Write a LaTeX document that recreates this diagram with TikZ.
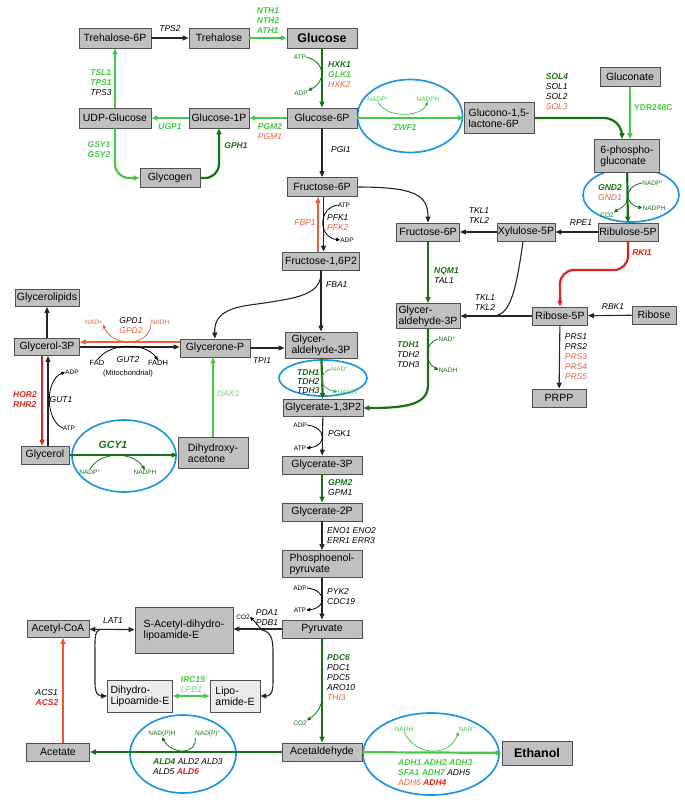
\documentclass[tikz,border=0pt]{standalone}
\usepackage{fontspec}
\setmainfont{Liberation Sans}
\usetikzlibrary{arrows.meta, positioning, shapes.geometric, calc}
\definecolor{dgreen}{RGB}{20,115,20}
\definecolor{lgreen}{RGB}{70,200,70}
\definecolor{pgreen}{RGB}{125,205,125}
\definecolor{orng}{RGB}{230,100,60}
\definecolor{rred}{RGB}{225,35,30}
\definecolor{acsred}{RGB}{240,85,45}
\definecolor{ringblue}{RGB}{30,150,225}
\definecolor{boxfill}{RGB}{192,192,192}
\definecolor{boxline}{RGB}{80,80,80}
\definecolor{litefill}{RGB}{236,236,236}

\newcommand{\gnDark}[1]{\textcolor{dgreen}{\bfseries #1}}
\newcommand{\gnBright}[1]{\textcolor{lgreen}{\bfseries #1}}
\newcommand{\gnPale}[1]{\textcolor{pgreen}{#1}}
\newcommand{\gnOr}[1]{\textcolor{orng}{#1}}
\newcommand{\gnRed}[1]{\textcolor{rred}{\bfseries #1}}

\begin{document}
\begin{tikzpicture}[x=1pt, y=-1pt,
  box/.style={draw=boxline, fill=boxfill, line width=0.9pt, inner sep=1pt,
  font=\fontsize{10.5}{11}\selectfont, align=left},
  litebox/.style={box, fill=litefill},
  bigbox/.style={box, font=\fontsize{12.5}{13}\selectfont\bfseries},
  gene/.style={font=\fontsize{8.5}{10}\selectfont\itshape, inner sep=0pt, align=left},
  cof/.style={font=\fontsize{6.5}{7}\selectfont, inner sep=0pt},
  ring/.style={draw=ringblue, line width=1.7pt, ellipse, inner sep=0pt},
  arr/.style={-{Triangle[length=6pt,width=5pt]}, line width=1.1pt, black!85},
  dblarr/.style={{Triangle[length=6pt,width=5pt]}-{Triangle[length=6pt,width=5pt]}, line width=1.1pt, black!85},
  garr/.style={arr, lgreen, line width=2.2pt},
  dgarr/.style={arr, dgreen, line width=2.2pt},
  rarr/.style={arr, rred, line width=2.2pt},
  oarr/.style={arr, orng, line width=1.3pt},
  hop/.style={-{Triangle[length=4pt,width=3.5pt]}, line width=0.8pt}
]
\useasboundingbox (0,0) rectangle (685,804);

% rings
\node[ring, minimum width=105pt, minimum height=73pt] (zwfring) at (410,116) {};
\node[ring, minimum width=96pt, minimum height=54pt] (gndring) at (631,195) {};
\node[ring, minimum width=88pt, minimum height=36pt] (tdhring) at (323,378) {};
\node[ring, minimum width=104pt, minimum height=72pt] (gcyring) at (124,456) {};
\node[ring, minimum width=106pt, minimum height=78pt] (aldring) at (183,754) {};
\node[ring, minimum width=136pt, minimum height=82pt] (adhring) at (431,754) {};

% metabolites
\node[box, minimum width=72pt, minimum height=20pt] (tre6p) at (115,38) {Trehalose-6P};
\node[box, minimum width=60pt, minimum height=20pt] (tre)   at (219,38) {Trehalose};
\node[bigbox, minimum width=70pt, minimum height=20pt] (glc) at (322,38) {Glucose};
\node[box, minimum width=72pt, minimum height=20pt] (udpg)  at (115,118) {UDP-Glucose};
\node[box, minimum width=60pt, minimum height=20pt] (g1p)   at (219,118) {Glucose-1P};
\node[box, minimum width=70pt, minimum height=20pt] (g6p)   at (322,118) {Glucose-6P};
\node[box, minimum width=70pt, minimum height=31pt] (glcnl) at (499,118) {Glucono-1,5-\\lactone-6P};
\node[box, minimum width=60pt, minimum height=19pt] (glcn)  at (630,77) {Gluconate};
\node[box, minimum width=65pt, minimum height=33pt] (pglcn) at (627,156) {6-phospho-\\gluconate};
\node[box, minimum width=60pt, minimum height=19pt] (glyc)  at (170,178) {Glycogen};
\node[box, minimum width=70pt, minimum height=19pt] (f6p)   at (322,187) {Fructose-6P};
\node[box, minimum width=77pt, minimum height=18pt] (f16p)  at (321,261) {Fructose-1,6P2};
\node[box, minimum width=60pt, minimum height=18pt] (ru5p)  at (628,232) {Ribulose-5P};
\node[box, minimum width=58pt, minimum height=18pt] (xu5p)  at (526,232) {Xylulose-5P};
\node[box, minimum width=63pt, minimum height=18pt] (f6pb)  at (428,232) {Fructose-6P};
\node[box, minimum width=55pt, minimum height=18pt] (r5p)   at (560,316) {Ribose-5P};
\node[box, minimum width=44pt, minimum height=18pt] (rib)   at (654,315) {Ribose};
\node[box, minimum width=54pt, minimum height=18pt] (prpp)  at (559,398) {PRPP};
\node[box, minimum width=64pt, minimum height=25pt] (gapb)  at (428,316) {Glycer-\\aldehyde-3P};
\node[box, minimum width=72pt, minimum height=26pt] (gap)   at (321,345) {Glycer-\\aldehyde-3P};
\node[box, minimum width=70pt, minimum height=18pt] (dhap)  at (215,348) {Glycerone-P};
\node[box, minimum width=64pt, minimum height=17pt] (glpd)  at (47,298) {Glycerolipids};
\node[box, minimum width=65pt, minimum height=17pt] (g3p)   at (47,347) {Glycerol-3P};
\node[box, minimum width=48pt, minimum height=18pt] (glyl)  at (45,455) {Glycerol};
\node[box, minimum width=70pt, minimum height=31pt] (dha)   at (213,453) {Dihydroxy-\\acetone};
\node[box, minimum width=80pt, minimum height=17pt] (bpg)   at (323,408) {Glycerate-1,3P2};
\node[box, minimum width=80pt, minimum height=18pt] (pg3)   at (322,465) {Glycerate-3P};
\node[box, minimum width=80pt, minimum height=18pt] (pg2)   at (322,512) {Glycerate-2P};
\node[box, minimum width=80pt, minimum height=27pt] (pep)   at (322,564) {Phosphoenol-\\pyruvate};
\node[box, minimum width=80pt, minimum height=18pt] (pyr)   at (322,629) {Pyruvate};
\node[box, minimum width=98pt, minimum height=46pt] (sacl)  at (184,630) {S-Acetyl-dihydro-\\lipoamide-E};
\node[box, minimum width=62pt, minimum height=17pt] (accoa) at (58,629) {Acetyl-CoA};
\node[litebox, minimum width=65pt, minimum height=32pt] (dlip) at (140,696) {Dihydro-\\Lipoamide-E};
\node[litebox, minimum width=50pt, minimum height=32pt] (lip)  at (235,696) {Lipo-\\amide-E};
\node[box, minimum width=63pt, minimum height=18pt] (acet)  at (58,752) {Acetate};
\node[box, minimum width=80pt, minimum height=18pt] (acald) at (322,752) {Acetaldehyde};
\node[bigbox, minimum width=70pt, minimum height=24pt] (etoh) at (537,753) {Ethanol};

% cofactors
\node[cof, text=dgreen] (atpa) at (300,57) {ATP};
\node[cof, text=dgreen] (adpa) at (301,93) {ADP};
\node[cof, text=lgreen] (nadpa) at (378,99) {NADP\textsuperscript{+}};
\node[cof, text=lgreen] (nadpha) at (428,99) {NADPH};
\node[cof, text=dgreen] (nadpb) at (653,183) {NADP\textsuperscript{+}};
\node[cof, text=dgreen] (nadphb) at (654,208) {NADPH};
\node[cof, text=dgreen] (co2a) at (607,215) {CO2};
\node[cof, text=dgreen] (nadb) at (447,339) {NAD\textsuperscript{+}};
\node[cof, text=dgreen] (nadhb) at (448,370) {NADH};
\node[cof] (atpb) at (344,205) {ATP};
\node[cof] (adpb) at (347,240) {ADP};
\node[cof, text=orng] (nadc) at (94,322) {NAD+};
\node[cof, text=orng] (nadhc) at (160,322) {NADH};
\node[cof, font=\fontsize{7.5}{8}\selectfont] (fad) at (97,363) {FAD};
\node[cof, font=\fontsize{7.5}{8}\selectfont] (fadh) at (158,363) {FADH};
\node[cof, font=\fontsize{7.5}{8}\selectfont] (mito) at (128,374) {(Mitochondrial)};
\node[cof] (adpc) at (72,372) {ADP};
\node[cof] (atpc) at (69,428) {ATP};
\node[cof, text=dgreen] (nadpc) at (90,472) {NADP\textsuperscript{+}};
\node[cof, text=dgreen] (nadphc) at (145,472) {NADPH};
\node[cof, text=lgreen] (nadd) at (340,369) {NAD\textsuperscript{+}};
\node[cof, text=lgreen] (nadhd) at (347,392) {NADH};
\node[cof] (adpd) at (300,425) {ADP};
\node[cof] (atpd) at (300,448) {ATP};
\node[cof] (adpe) at (300,588) {ADP};
\node[cof] (atpe) at (300,610) {ATP};
\node[cof] (co2b) at (243,617) {CO2};
\node[cof, text=dgreen] (co2c) at (300,723) {CO2};
\node[cof, text=dgreen] (nadphd) at (162,734) {NAD(P)H};
\node[cof, text=dgreen] (nadpd) at (208,734) {NAD(P)\textsuperscript{+}};
\node[cof, text=lgreen] (nadhe) at (404,729) {NADH};
\node[cof, text=lgreen] (nade) at (467,729) {NAD\textsuperscript{+}};

% genes
\node[gene] at (170,29) {TPS2};
\node[gene] at (268,21) {\gnBright{NTH1}\\\gnBright{NTH2}\\\gnBright{ATH1}};
\node[gene] at (101,83) {\gnBright{TSL1}\\\gnBright{TPS1}\\TPS3};
\node[gene] at (170,127) {\gnBright{UGP1}};
\node[gene] at (99,150) {\gnBright{GSY1}\\\gnBright{GSY2}};
\node[gene] at (236,146) {\gnDark{GPH1}};
\node[gene] at (270,132) {\gnBright{PGM2}\\\gnOr{PGM1}};
\node[gene, anchor=west] at (328,75) {\gnDark{HXK1}\\\gnBright{GLK1}\\\gnOr{HXK2}};
\node[gene, anchor=west] at (331,150) {PGI1};
\node[gene] at (405,128) {\gnBright{ZWF1}};
\node[gene] at (557,92) {\gnDark{SOL4}\\SOL1\\SOL2\\\gnOr{SOL3}};
\node[gene, anchor=west, font=\fontsize{8.5}{10}\selectfont] at (634,108) {\gnBright{YDR248C}};
\node[gene, anchor=east] at (622,193) {\gnDark{GND2}\\\gnOr{GND1}};
\node[gene] at (581,223) {RPE1};
\node[gene] at (479,216) {TKL1\\TKL2};
\node[gene] at (642,253) {\gnRed{RKI1}};
\node[gene] at (613,307) {RBK1};
\node[gene] at (485,303) {TKL1\\TKL2};
\node[gene] at (576,357) {PRS1\\PRS2\\\gnOr{PRS3}\\\gnOr{PRS4}\\\gnOr{PRS5}};
\node[gene, anchor=west] at (434,276) {\gnDark{NQM1}\\TAL1};
\node[gene, anchor=west] at (397,355) {\gnDark{TDH1}\\TDH2\\TDH3};
\node[gene] at (305,223) {\gnOr{FBP1}};
\node[gene, anchor=west] at (327,223) {PFK1\\\gnOr{PFK2}};
\node[gene, anchor=west] at (326,285) {FBA1};
\node[gene] at (262,361) {TPI1};
\node[gene] at (131,326) {GPD1\\\gnOr{GPD2}};
\node[gene] at (128,360) {GUT2};
\node[gene] at (25,400) {\gnRed{HOR2}\\\gnRed{RHR2}};
\node[gene] at (61,400) {GUT1};
\node[gene, font=\fontsize{10.5}{11}\selectfont\itshape] at (113,445) {\gnDark{GCY1}};
\node[gene, anchor=west] at (217,394) {\gnPale{DAK1}};
\node[gene, anchor=west, font=\fontsize{8.5}{9}\selectfont\itshape] at (297,382) {\gnDark{TDH1}\\TDH2\\TDH3};
\node[gene, anchor=west] at (328,434) {PGK1};
\node[gene, anchor=west] at (328,488) {\gnDark{GPM2}\\GPM1};
\node[gene, anchor=west] at (327,536) {ENO1 ENO2\\ERR1 ERR3};
\node[gene, anchor=west] at (327,597) {PYK2\\CDC19};
\node[gene] at (267,618) {PDA1\\PDB1};
\node[gene] at (113,621) {LAT1};
\node[gene] at (193,685) {\gnBright{IRC15}\\\gnPale{LPD1}};
\node[gene] at (47,698) {ACS1\\\gnRed{ACS2}};
\node[gene, anchor=west] at (327,678) {\gnDark{PDC6}\\PDC1\\PDC5\\ARO10\\\gnOr{THI3}};
\node[gene, anchor=west] at (153,767) {\gnDark{ALD4} ALD2 ALD3\\ALD5 \gnRed{ALD6}};
\node[gene, anchor=west] at (398,773) {\gnBright{ADH1} \gnBright{ADH2} \gnBright{ADH3}\\\gnBright{SFA1} \gnBright{ADH7} ADH5\\\gnOr{ADH6} \gnRed{ADH4}};

% forks on the main lines
\coordinate (gndfork) at (627,200);
\coordinate (tklmerge) at (492,316);
\coordinate (pdafork) at (262,630);
\coordinate (latfork) at (100,629);
\coordinate (pdcfork) at (322,700);

% reactions
\draw[arr] (tre6p) -- (tre);
\draw[garr] (tre) -- (glc);
\draw[garr] (udpg) -- (tre6p);
\draw[garr] (g1p) -- (udpg);
\draw[garr] (g6p) -- (g1p);
\draw[dgarr] (glc) -- (g6p);
\draw[garr, rounded corners=14pt] (udpg.south) |- (glyc.west);
\draw[dgarr, rounded corners=14pt] (glyc.east) -| (g1p.south);
\draw[arr] (g6p) -- (f6p);
\draw[garr] (g6p) -- (glcnl);
\draw[dgarr, rounded corners=18pt] (glcnl.east) -| ([xshift=-5pt]pglcn.north);
\draw[garr] (glcn.south) -- (glcn.south |- pglcn.north);
\draw[dgarr] (pglcn) -- (ru5p);
\draw[arr] (ru5p) -- (xu5p);
\draw[arr] (xu5p) -- (f6pb);
\draw[arr] (f6p.east) .. controls (415,187) and (428,195) .. (f6pb.north);
\draw[rarr, rounded corners=14pt] (ru5p.south) |- (594,270) -| (r5p.north);
\draw[arr] (rib) -- (r5p);
\draw[arr] (r5p) -- (gapb);
\draw[line width=1.1pt, black!85] ([xshift=-3pt]xu5p.south) .. controls (515,300) and (508,316) .. (tklmerge);
\draw[arr] (r5p) -- (prpp);
\draw[dgarr] (f6pb) -- (gapb);
\draw[dgarr] (gapb.south) -- (428,385) .. controls (428,405) and (405,408) .. (bpg.east);
\draw[arr] ([xshift=1.5pt]f6p.south) -- ([xshift=1.5pt]f6p.south |- f16p.north);
\draw[oarr] ([xshift=-4pt]f6p.south |- f16p.north) -- ([xshift=-4pt]f6p.south);
\draw[arr] (f16p) -- (gap);
\draw[arr] (f16p.south) .. controls (322,295) and (300,298) .. (250,305) .. controls (220,309) and (214,320) .. (dhap.north);
\draw[arr] (dhap.east) -- (dhap.east -| gap.west);
\draw[arr] (g3p) -- (glpd);
\draw[arr] (g3p.east) -- (g3p.east -| dhap.west);
\draw[oarr] ([yshift=5pt]g3p.east -| dhap.west) -- ([yshift=5pt]g3p.east);
\draw[rarr] ([xshift=-5pt]g3p.south) -- ([xshift=-5pt]g3p.south |- glyl.north);
\draw[arr] ([xshift=1pt]g3p.south |- glyl.north) -- ([xshift=1pt]g3p.south);
\draw[dgarr] (glyl.east) -- (glyl.east -| dha.west);
\draw[garr] (dha.north) -- (dha.north |- dhap.south);
\draw[dgarr] (gap) -- (bpg);
\draw[arr] (bpg) -- (pg3);
\draw[dgarr] (pg3) -- (pg2);
\draw[arr] (pg2) -- (pep);
\draw[arr] (pep) -- (pyr);
\draw[arr] (pyr.west) -- (pyr.west -| sacl.east);
\draw[arr] (pdafork) .. controls (274,632) and (273,645) .. (273,660) -- (273,683) .. controls (273,696) and (268,696) .. (lip.east);
\draw[dblarr] (accoa) -- (sacl);
\draw[arr] (latfork) .. controls (94,632) and (95,640) .. (95,655) -- (95,684) .. controls (95,695) and (100,696) .. (dlip.west);
\draw[dblarr, lgreen, line width=2.2pt] (dlip) -- (lip);
\draw[arr, acsred, line width=2.5pt] ([xshift=5pt]acet.north) -- ([xshift=5pt]acet.north |- accoa.south);
\draw[arr, dgreen, line width=1.4pt] (acald) -- (acet);
\draw[dgarr] (pyr) -- (acald);
\draw[garr] (acald) -- (etoh);

% cofactor hops
\draw[hop, dgreen] (atpa.east) .. controls (326,62) and (326,82) .. (adpa.north east);
\draw[hop, lgreen] (nadpa.south) .. controls (385,118) and (420,118) .. (nadpha.south);
\draw[hop, dgreen] (nadpb.west) .. controls (624,186) and (624,204) .. (nadphb.west);
\draw[hop, dgreen] (gndfork) .. controls (627,206) and (620,208) .. (co2a.north east);
\draw[hop, dgreen] (nadb.west) .. controls (424,343) and (424,362) .. (nadhb.west);
\draw[hop] (atpb.west) .. controls (318,208) and (318,237) .. (adpb.west);
\draw[hop, orng] (nadhc.south west) .. controls (150,347) and (112,347) .. (nadc.south east);
\draw[hop] (fad.north) .. controls (110,342) and (145,342) .. (fadh.north);
\draw[hop] (atpc.west) .. controls (45,420) and (45,380) .. (adpc.west);
\draw[hop, dgreen] (nadpc.north) .. controls (100,451) and (132,451) .. (nadphc.north);
\draw[hop, lgreen!70!dgreen] (nadd.west) .. controls (318,372) and (318,388) .. (nadhd.west);
\draw[hop] (adpd.east) .. controls (327,427) and (327,446) .. (atpd.east);
\draw[hop] (adpe.east) .. controls (327,590) and (327,608) .. (atpe.east);
\draw[hop] (pdafork) .. controls (258,624) .. (co2b.east);
\draw[hop, dgreen] (pdcfork) .. controls (320,710) and (315,715) .. (co2c.north east);
\draw[hop, dgreen] (nadpd.south west) .. controls (198,755) and (172,755) .. (nadphd.south);
\draw[hop, lgreen] (nadhe.south) .. controls (415,757) and (450,757) .. (nade.south west);
\end{tikzpicture}
\end{document}
